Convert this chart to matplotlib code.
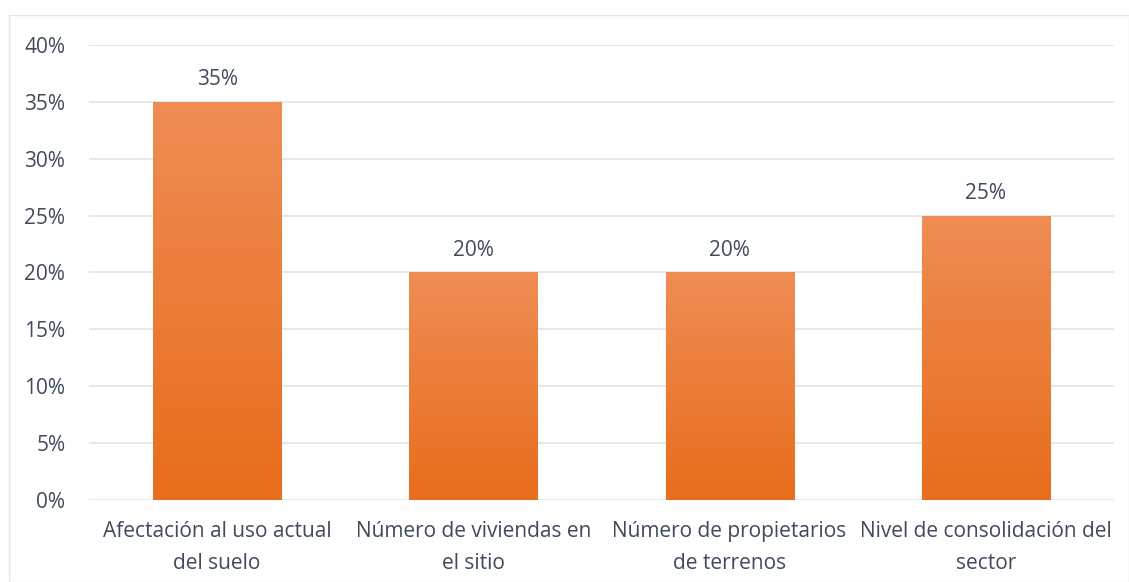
import matplotlib
matplotlib.use("Agg")
import matplotlib.pyplot as plt
import numpy as np
from matplotlib.colors import LinearSegmentedColormap
from matplotlib.patches import Rectangle

categories = ["Afectación al uso actual\ndel suelo", "Número de viviendas en\nel sitio",
              "Número de propietarios\nde terrenos", "Nivel de consolidación del\nsector"]
values = [35, 20, 20, 25]
yticks = [0, 5, 10, 15, 20, 25, 30, 35, 40]

plt.rcParams['font.family'] = ['Open Sans', 'DejaVu Sans']
txt = '#404a5c'
fs = 15

fig = plt.figure(figsize=(11.29, 5.82), dpi=100)
ax = fig.add_axes([0.0788, 0.141, 0.9079, 0.7817])

x = np.arange(len(categories))
bars = ax.bar(x, values, width=0.5, color='none', zorder=3)
cmap = LinearSegmentedColormap.from_list('g', ['#e86d1c', '#ef8d55'])
grad = np.linspace(0, 1, 256).reshape(-1, 1)
for b in bars:
    x0, y0 = b.get_x(), b.get_y()
    w, h = b.get_width(), b.get_height()
    im = ax.imshow(grad, extent=[x0, x0 + w, y0, y0 + h], origin='lower',
                   cmap=cmap, aspect='auto', zorder=3)
    im.set_clip_path(b)
for xi, v in zip(x, values):
    ax.text(xi, v + 1.0, f"{v}%", ha='center', va='bottom', fontsize=fs, color=txt, zorder=4)

ax.set_xlim(-0.5, len(categories) - 0.5)
ax.set_ylim(0, 40)
ax.set_yticks(yticks)
ax.set_yticklabels([f"{t}%" for t in yticks], fontsize=fs, color=txt)
ax.set_xticks(x)
ax.set_xticklabels(categories, fontsize=fs, color=txt, linespacing=1.7)
ax.tick_params(length=0)
ax.tick_params(axis='x', pad=15)
ax.tick_params(axis='y', pad=17)
ax.grid(axis='y', color='#e3e3e6', linewidth=1.2, zorder=0)
for s in ax.spines.values():
    s.set_visible(False)

fig.patches.append(Rectangle((9/1129, 0.0), 1 - 9/1129, 1 - 15/582, transform=fig.transFigure,
                             fill=False, edgecolor='#e6e6e8', linewidth=1.0))

fig.savefig("out.png", dpi=100)
